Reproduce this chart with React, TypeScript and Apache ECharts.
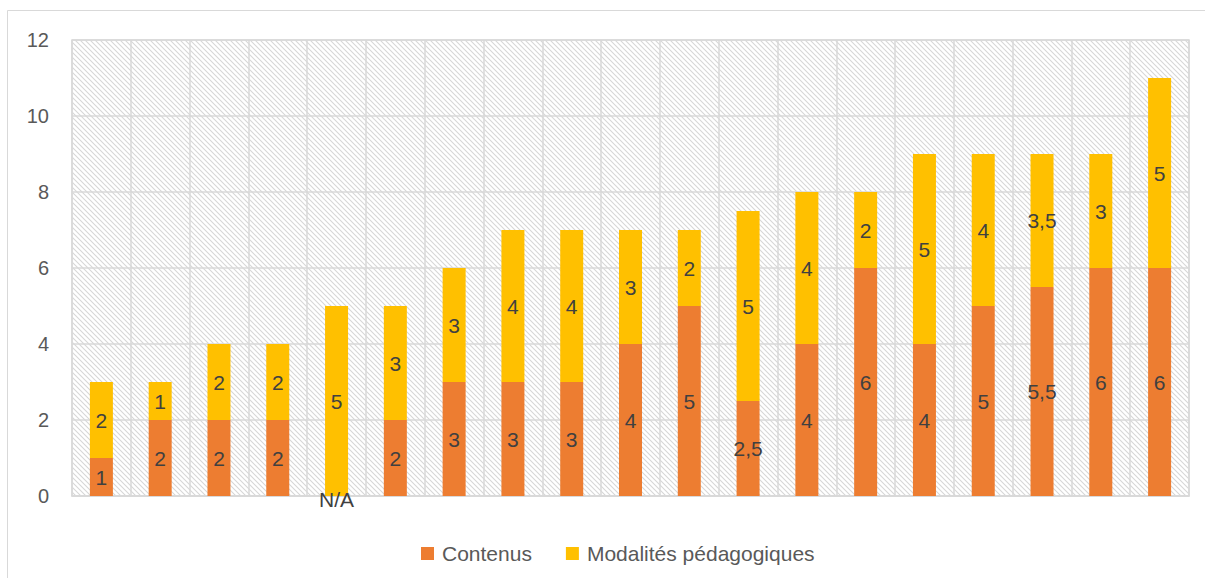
import React, { useEffect, useRef } from "react";
import * as echarts from "echarts";

const categories = ["1","2","3","4","5","6","7","8","9","10","11","12","13","14","15","16","17","18","19"];
const contenus = [1, 2, 2, 2, 0, 2, 3, 3, 3, 4, 5, 2.5, 4, 6, 4, 5, 5.5, 6, 6];
const modalites = [2, 1, 2, 2, 5, 3, 3, 4, 4, 3, 2, 5, 4, 2, 5, 4, 3.5, 3, 5];
const naIndex = 4;
const yTicks = { min: 0, max: 12, interval: 2 };

const fmt = (v: number) => String(v).replace(".", ",");

export default function App() {
  const ref = useRef<HTMLDivElement>(null);
  useEffect(() => {
    if (!ref.current) return;
    const chart = echarts.init(ref.current, null, { renderer: "svg" });
    const svgTile =
      "<svg xmlns='http://www.w3.org/2000/svg' width='5' height='5'>" +
      "<path d='M0 0L5 5M-2.5 2.5L2.5 7.5M2.5 -2.5L7.5 2.5' stroke='#d6d6d6' stroke-width='1.1'/></svg>";
    const tileUrl = "data:image/svg+xml;charset=utf-8," + encodeURIComponent(svgTile);
    const font = "'Liberation Sans', Arial, sans-serif";
    const labelStyle = {
      show: true,
      position: "inside" as const,
      color: "#404040",
      fontSize: 21,
      fontFamily: font,
    };
    chart.setOption({
      animation: false,
      backgroundColor: "#ffffff",
      textStyle: { fontFamily: font },
      graphic: [
        {
          type: "rect",
          shape: { x: 7.5, y: 10.5, width: 1300, height: 700 },
          style: { fill: "none", stroke: "#d9d9d9", lineWidth: 1 },
          silent: true,
        },
      ],
      grid: {
        left: 72,
        right: 16,
        top: 40,
        bottom: 82,
        show: true,
        backgroundColor: {
          image: tileUrl,
          repeat: "repeat",
          imageWidth: 5,
          imageHeight: 5,
        } as any,
        borderColor: "#d9d9d9",
        borderWidth: 1.5,
      },
      legend: {
        top: 538,
        left: 416,
        icon: "rect",
        itemWidth: 13,
        itemHeight: 13,
        itemGap: 34,
        textStyle: { color: "#595959", fontSize: 21, fontFamily: font, padding: [0, 0, 0, 3] },
        data: ["Contenus", "Modalités pédagogiques"],
      },
      xAxis: {
        type: "category",
        data: categories,
        axisLabel: { show: false },
        axisTick: { show: false },
        axisLine: { show: true, lineStyle: { color: "#d9d9d9", width: 1.5 } },
        splitLine: { show: true, interval: 0, lineStyle: { color: "#d9d9d9", width: 1.5 } },
      },
      yAxis: {
        type: "value",
        min: yTicks.min,
        max: yTicks.max,
        interval: yTicks.interval,
        axisLabel: { color: "#595959", fontSize: 20, margin: 23, fontFamily: font },
        axisLine: { show: false },
        axisTick: { show: false },
        splitLine: { show: true, lineStyle: { color: "#d9d9d9", width: 1.5 } },
      },
      series: [
        {
          name: "Contenus",
          type: "bar",
          stack: "total",
          barWidth: 23,
          itemStyle: { color: "#ED7D31" },
          label: { ...labelStyle, formatter: (p: any) => fmt(p.value) },
          data: contenus.map((v, i) =>
            i === naIndex ? { value: v, label: { formatter: "N/A", offset: [0, 3] } } : v
          ),
          z: 2,
        },
        {
          name: "Modalités pédagogiques",
          type: "bar",
          stack: "total",
          barWidth: 23,
          itemStyle: { color: "#FFC000" },
          label: { ...labelStyle, formatter: (p: any) => fmt(p.value) },
          data: modalites,
          z: 2,
        },
      ],
    });
    return () => chart.dispose();
  }, []);
  return (
    <div
      ref={ref}
      style={{ position: "absolute", left: 0, top: 0, width: 1205, height: 578 }}
    />
  );
}
